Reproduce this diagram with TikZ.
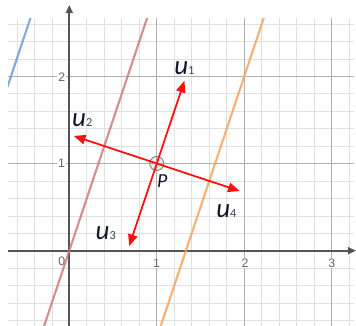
\documentclass[tikz,border=0pt]{standalone}
\usepackage{fontspec}
\newfontfamily\calib{Carlito}
\newfontfamily\arialf{Liberation Sans}
\usetikzlibrary{arrows.meta}
\definecolor{minorgrid}{HTML}{E0E0E0}
\definecolor{majorgrid}{HTML}{B0B0B0}
\definecolor{axiscol}{HTML}{555555}
\definecolor{roseline}{HTML}{CC7A7A}
\definecolor{orangeline}{HTML}{F7A35C}
\definecolor{blueline}{HTML}{6B9BD1}
\definecolor{vecred}{HTML}{FF1010}
\definecolor{labcol}{HTML}{14142B}
\definecolor{subcol}{HTML}{2E4560}
\definecolor{tickcol}{HTML}{666666}
\newcommand\ulabel[1]{u{\upshape\fontsize{10.5}{10.5}\selectfont\color{subcol}#1}}
\begin{document}
\begin{tikzpicture}[x=2.625cm,y=2.616cm,
  vec/.style={draw=vecred,line width=1.5pt,-{Triangle[length=10pt,width=8pt]}},
  ulab/.style={anchor=base west,inner sep=0pt,text=labcol,font=\calib\itshape\fontsize{23}{23}\selectfont},
  ticklab/.style={text=tickcol,fill=white,font=\arialf\fontsize{10.5}{10.5}\selectfont,inner sep=0.8pt},
  axisline/.style={draw=axiscol,line width=1.6pt,-{Triangle[length=7pt,width=6pt]}},
  graphline/.style={line width=1.8pt,opacity=0.85}]
\useasboundingbox (-0.792,-0.8635) rectangle (3.277,2.875);
\begin{scope}
\clip (-0.7,-0.8635) rectangle (3.25,2.665);
\draw[minorgrid,line width=0.5pt,step=0.2] (-0.8,-1) grid (3.4,2.8);
\draw[majorgrid,line width=0.7pt,step=1] (-1,-1) grid (4,3);
\end{scope}
% axes
\draw[axisline] (-0.7,0) -- (3.277,0);
\draw[axisline] (0,-0.8635) -- (0,2.818);
% tick labels
\node[ticklab] (ty2) at (-0.087,1.992) {2};
\node[ticklab] (ty1) at (-0.089,1.006) {1};
\node[ticklab] (t0) at (-0.087,-0.118) {0};
\node[ticklab] (tx1) at (0.997,-0.141) {1};
\node[ticklab] (tx2) at (2.008,-0.141) {2};
\node[ticklab] (tx3) at (2.999,-0.141) {3};
% graph lines
\begin{scope}
\clip (-0.7,-0.8635) rectangle (3.25,2.665);
\draw[graphline,roseline] (-0.3,-0.9) -- (0.9,2.7);
\draw[graphline,orangeline] (1.0333,-0.9) -- (2.2333,2.7);
\draw[graphline,blueline] (-0.9667,1.1) -- (-0.4333,2.7);
\end{scope}
% point P and vectors
\coordinate (P) at (1,1);
\coordinate (t1) at (1.3162,1.9487);
\coordinate (t2) at (0.0513,1.3162);
\coordinate (t3) at (0.6838,0.0513);
\coordinate (t4) at (1.9487,0.6838);
\node[circle,draw=gray,line width=0.8pt,fill=gray,fill opacity=0.15,draw opacity=1,minimum size=12pt,inner sep=0pt] (Pc) at (P) {};
\draw[vec] (P) -- (t1);
\draw[vec] (P) -- (t2);
\draw[vec] (P) -- (t3);
\draw[vec] (P) -- (t4);
% labels
\node[ulab] (lu1) at (1.197,2.026) {\ulabel{1}};
\node[ulab] (lu2) at (0.031,1.419) {\ulabel{2}};
\node[ulab] (lu3) at (0.299,0.131) {\ulabel{3}};
\node[ulab] (lu4) at (1.677,0.383) {\ulabel{4}};
\node[anchor=base west,inner sep=0pt,text=labcol,font=\calib\itshape\fontsize{17}{17}\selectfont] (lP) at (1.002,0.719) {P};
\end{tikzpicture}
\end{document}
